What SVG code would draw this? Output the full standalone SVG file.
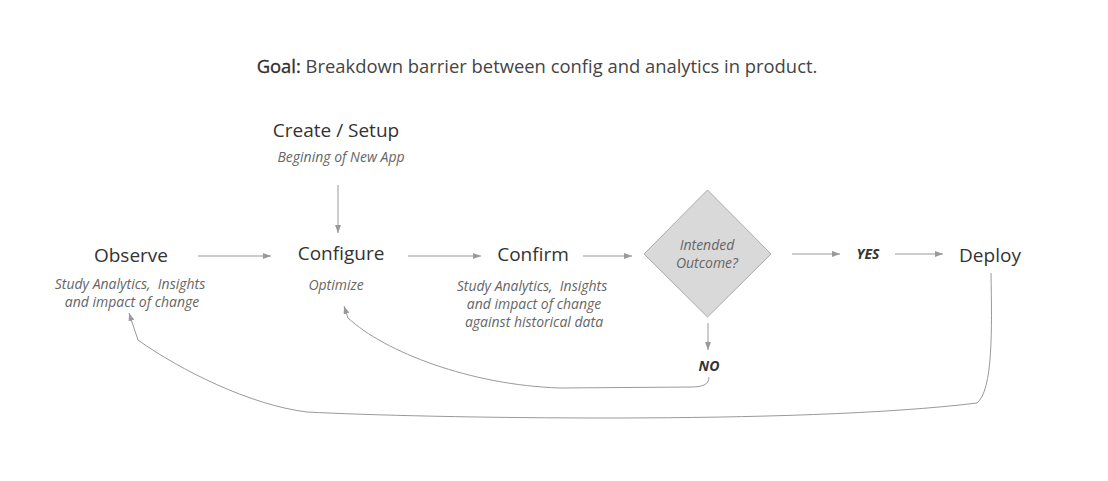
<svg xmlns="http://www.w3.org/2000/svg" width="1108" height="481" viewBox="0 0 1108 481">
<defs>
<marker id="ah" viewBox="0 0 8 6" refX="8" refY="3" markerWidth="8" markerHeight="6" markerUnits="userSpaceOnUse" orient="auto">
<path d="M0,0 L8,3 L0,6 z" fill="#999"/>
</marker>
<style>
.h{font-family:"Open Sans","Noto Sans",sans-serif;font-size:19px;fill:#333;text-anchor:middle}
.d{font-family:"Open Sans","Noto Sans",sans-serif;font-size:14px;font-style:italic;fill:#666;text-anchor:middle;white-space:pre}
.b{font-family:"Open Sans","Noto Sans",sans-serif;font-size:14px;font-style:italic;font-weight:bold;fill:#333;text-anchor:middle}
.c{fill:none;stroke:#999;stroke-width:1;marker-end:url(#ah)}
</style>
</defs>
<rect width="1108" height="481" fill="#fff"/>
<g id="title">
<text x="537" y="73" style="font-family:'Open Sans','Noto Sans',sans-serif;font-size:18.4px;fill:#444;text-anchor:middle"><tspan fill="#2e2e2e" stroke="#2e2e2e" stroke-width="0.35">Goal:</tspan> Breakdown barrier between config and analytics in product.</text>
</g>
<g id="create">
<text class="h" x="336" y="137">Create / Setup</text>
<text class="d" x="341" y="162">Begining of New App</text>
</g>
<g id="observe">
<text class="h" x="131" y="262">Observe</text>
<text class="d" x="130" y="289" xml:space="preserve">Study Analytics,  Insights</text>
<text class="d" x="132" y="307">and impact of change</text>
</g>
<g id="configure">
<text class="h" x="341" y="260">Configure</text>
<text class="d" x="336" y="290">Optimize</text>
</g>
<g id="confirm">
<text class="h" x="533" y="261">Confirm</text>
<text class="d" x="532" y="291" xml:space="preserve">Study Analytics,  Insights</text>
<text class="d" x="534" y="309">and impact of change</text>
<text class="d" x="534" y="327">against historical data</text>
</g>
<g id="decision">
<polygon points="707.5,190 771,254 707.5,317 644,254" fill="#d9d9d9" stroke="#aaa" stroke-width="1"/>
<text class="d" x="707" y="250">Intended</text>
<text class="d" x="707" y="268">Outcome?</text>
</g>
<g id="yes"><text class="b" x="868" y="259">YES</text></g>
<g id="no"><text class="b" x="709" y="371">NO</text></g>
<g id="deploy"><text class="h" x="990" y="262">Deploy</text></g>
<g id="connectors">
<path class="c" d="M338,185 L338,233"/>
<path class="c" d="M198,256 L271,256"/>
<path class="c" d="M408,256 L481,256"/>
<path class="c" d="M583,256 L632,256"/>
<path class="c" d="M708,323 L708,350"/>
<path class="c" d="M792,254 L840,254"/>
<path class="c" d="M895,254 L943,254"/>
<path class="c" d="M709,377 C709,385 702,387 690,387 L560,388 C470,385 385,352 348,318 L344,306"/>
<path class="c" d="M991,273 C992,330 993,390 977,403 C800,425 420,418 307,412 C250,405 180,370 138,340 L129,313"/>
</g>
</svg>
